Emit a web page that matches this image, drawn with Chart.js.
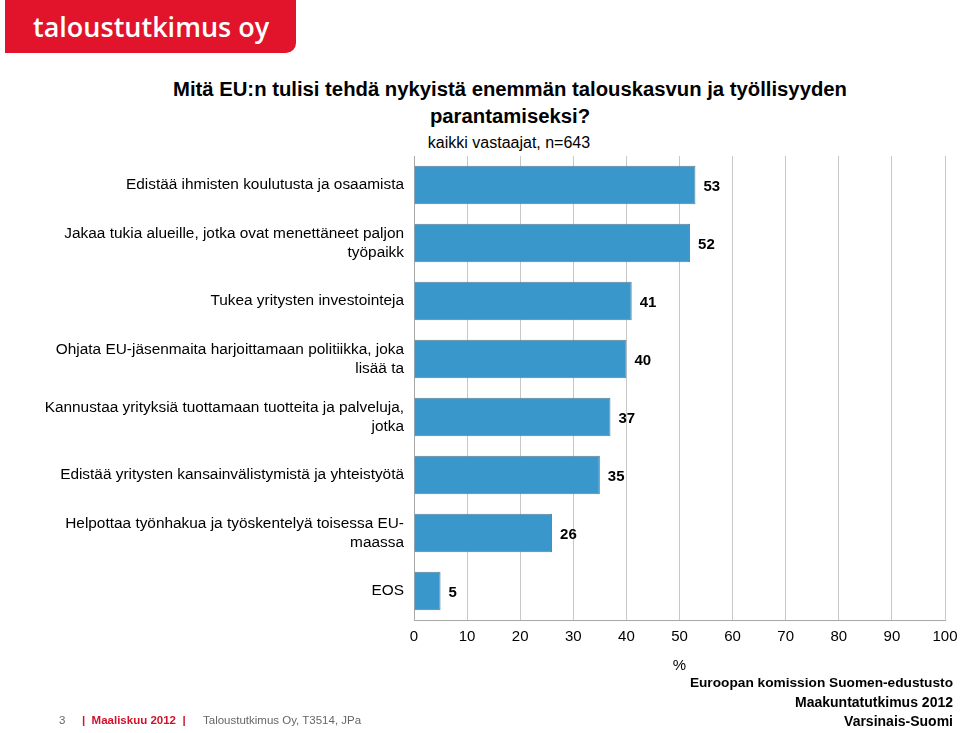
<!DOCTYPE html>
<html>
<head>
<meta charset="utf-8">
<script src="https://cdn.jsdelivr.net/npm/chart.js@4"></script>
<style>
  body { margin: 0; background: #fff; font-family: "Liberation Sans", Arial, sans-serif; }
  #wrap { position: relative; width: 960px; height: 733px; overflow: hidden; }
  #myChart { position: absolute; left: 0; top: 0; }
  .logo { position: absolute; left: 5px; top: 0; width: 291px; height: 53px; background: #e2142b;
    border-bottom-right-radius: 10px; color: #fff; font-family: "Open Sans", sans-serif; font-size: 27px;
    font-weight: 600; line-height: 53px; padding-left: 28px; box-sizing: border-box; }
  .title { position: absolute; left: 0; width: 1020px; text-align: center; font-weight: bold; font-size: 20.3px; color: #000; }
  .sub { position: absolute; left: 0; width: 1018px; top: 134px; text-align: center; font-size: 16px; }
  .foot { position: absolute; right: 7px; text-align: right; font-weight: bold; color: #000; }
  .narrow { font-family: "Liberation Sans Narrow", "Arial Narrow", sans-serif; }
  .left { position: absolute; top: 714px; font-size: 11.5px; color: #666; }
</style>
</head>
<body>
<div id="wrap">
  <div class="logo">taloustutkimus oy</div>
  <div class="title" style="top:78px">Mitä EU:n tulisi tehdä nykyistä enemmän talouskasvun ja työllisyyden</div>
  <div class="title" style="top:105px">parantamiseksi?</div>
  <div class="sub">kaikki vastaajat, n=643</div>
  <canvas id="myChart" width="960" height="733"></canvas>
  <div class="foot" style="top:675px;font-size:13.7px">Euroopan komission Suomen-edustusto</div>
  <div class="foot narrow" style="top:694px;font-size:14px">Maakuntatutkimus 2012</div>
  <div class="foot narrow" style="top:713px;font-size:14px">Varsinais-Suomi</div>
  <div class="left narrow" style="left:59px">3</div>
  <div class="left narrow" style="left:82px;color:#d0122a;font-weight:bold">|&nbsp; Maaliskuu 2012 &nbsp;|</div>
  <div class="left narrow" style="left:203px">Taloustutkimus Oy, T3514, JPa</div>
</div>
<script>
// kategoriat ja arvot
const categories = [
  ["Edistää ihmisten koulutusta ja osaamista"],
  ["Jakaa tukia alueille, jotka ovat menettäneet paljon", "työpaikk"],
  ["Tukea yritysten investointeja"],
  ["Ohjata EU-jäsenmaita harjoittamaan politiikka, joka", "lisää ta"],
  ["Kannustaa yrityksiä tuottamaan tuotteita ja palveluja,", "jotka"],
  ["Edistää yritysten kansainvälistymistä ja yhteistyötä"],
  ["Helpottaa työnhakua ja työskentelyä toisessa EU-", "maassa"],
  ["EOS"],
];
const values = [53, 52, 41, 40, 37, 35, 26, 5];
const xTicks = [0, 10, 20, 30, 40, 50, 60, 70, 80, 90, 100];

// arvot palkkien perään
const valueLabels = {
  id: "valueLabels",
  afterDatasetsDraw(chart) {
    const ctx = chart.ctx;
    const meta = chart.getDatasetMeta(0);
    ctx.save();
    ctx.font = "bold 15px 'Liberation Sans', Arial";
    ctx.fillStyle = "#000";
    ctx.textAlign = "left";
    ctx.textBaseline = "middle";
    meta.data.forEach((bar, i) => {
      ctx.fillText(values[i], bar.x + 8, bar.y + 2);
    });
    ctx.restore();
  },
};

const ctx = document.getElementById("myChart").getContext("2d");
const myChart = new Chart(ctx, {
  type: "bar",
  data: {
    labels: categories,
    datasets: [{
      data: values,
      backgroundColor: "#3997cb",
      borderColor: "#5b7f94",
      borderWidth: 1,
      barPercentage: 0.66,
      categoryPercentage: 1,
    }],
  },
  options: {
    indexAxis: "y",
    responsive: false,
    animation: false,
    layout: { padding: { top: 156, right: 0, bottom: 58, left: 0 } },
    plugins: { legend: { display: false }, tooltip: { enabled: false } },
    scales: {
      x: {
        min: 0,
        max: 100,
        afterBuildTicks: (scale) => { scale.ticks = xTicks.map((v) => ({ value: v })); },
        afterFit: (scale) => { scale.paddingRight = 15; },
        ticks: { color: "#000", font: { size: 15, family: "'Liberation Sans', Arial" }, padding: 8 },
        grid: { color: "#c8c8c8", drawTicks: false },
        border: { color: "#a8a8a8" },
        title: { display: true, text: "%", color: "#000", font: { size: 15, family: "'Liberation Sans', Arial" }, padding: { top: 3, bottom: 0 } },
      },
      y: {
        afterFit: (scale) => { scale.width = 414; },
        ticks: { color: "#000", font: { size: 15.4, family: "'Liberation Sans', Arial", lineHeight: 1.22 }, padding: 10 },
        grid: { display: false, drawTicks: false },
        border: { color: "#a8a8a8" },
      },
    },
  },
  plugins: [valueLabels],
});
</script>
</body>
</html>
